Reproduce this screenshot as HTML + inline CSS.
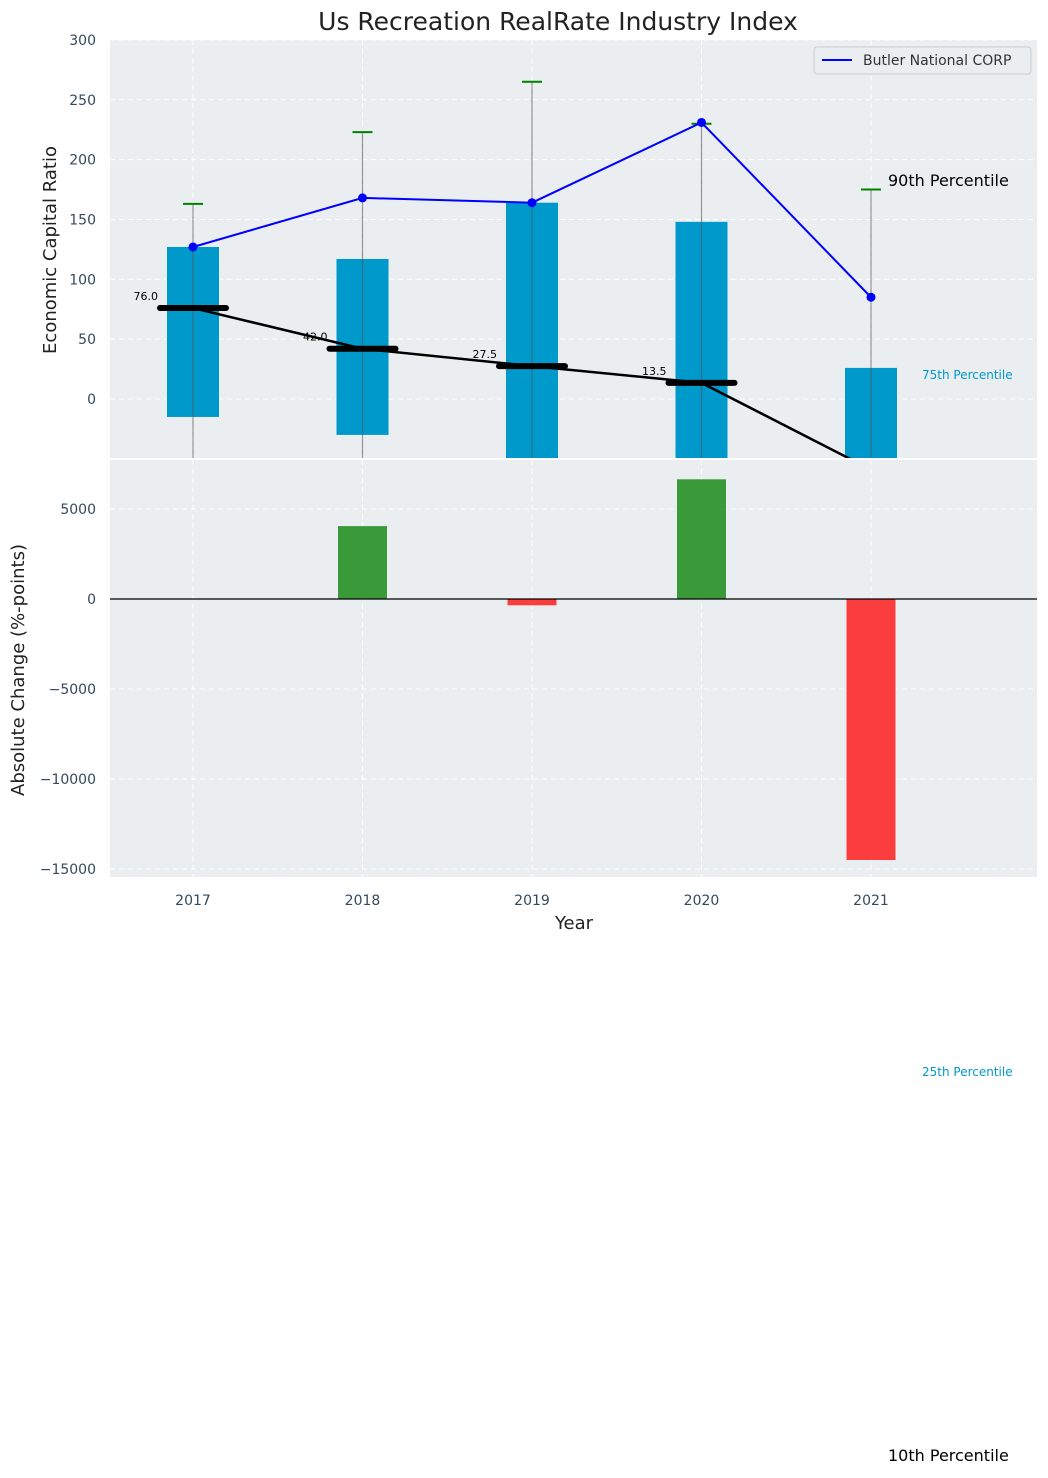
<!DOCTYPE html>
<html><head><meta charset="utf-8"><style>
body{margin:0;background:#fff;font-family:"Liberation Sans","DejaVu Sans",sans-serif}
svg text{font-family:"DejaVu Sans","Liberation Sans",sans-serif}
</style></head><body>
<svg id="chart" width="1048" height="1473" xmlns="http://www.w3.org/2000/svg"></svg>
<script>
const years=[2017,2018,2019,2020,2021];
const p75=[127,117,164,148,26];
const p25=[-15,-30,-80,-80,-80];
const p90=[163,223,265,230,175];
const medians=[76,42,27.5,13.5,-59];
const medianLabels=["76.0","42.0","27.5","13.5",""];
const company=[127,168,164,231,85];
const changes=[0,4050,-350,6650,-14500];
const topTicks=[0,50,100,150,200,250,300];
const botTicks=[-15000,-10000,-5000,0,5000];

const svg=document.getElementById('chart');
const NS='http://www.w3.org/2000/svg';
function mk(tag,attrs,parent){const e=document.createElementNS(NS,tag);for(const k in attrs)e.setAttribute(k,attrs[k]);(parent||svg).appendChild(e);return e;}
const X=y=>193+(y-2017)*169.5;
const Yt=v=>399-v*1.197;
const Yb=v=>599-v*0.018;
const L=110,R=1037;

let e=mk('rect',{x:L,y:40,width:R-L,height:418,fill:'#eaeef0'});

e=mk('rect',{x:L,y:460,width:R-L,height:417,fill:'#eaeef0'});


const clipT=mk('clipPath',{id:'ct'});mk('rect',{x:L,y:40,width:R-L,height:418},clipT);
const clipB=mk('clipPath',{id:'cb'});mk('rect',{x:L,y:460,width:R-L,height:417},clipB);
const gT=mk('g',{'clip-path':'url(#ct)'});
const gB=mk('g',{'clip-path':'url(#cb)'});

topTicks.forEach(t=>{mk('line',{x1:L,x2:R,y1:Yt(t),y2:Yt(t),stroke:'#fff','stroke-dasharray':'5,4','stroke-width':1},gT);
 e=mk('text',{x:96,y:Yt(t)+5,'text-anchor':'end','font-size':14,fill:'#34495e'});e.textContent=t;
 });
botTicks.forEach(t=>{mk('line',{x1:L,x2:R,y1:Yb(t),y2:Yb(t),stroke:'#fff','stroke-dasharray':'5,4','stroke-width':1},gB);
 e=mk('text',{x:96,y:Yb(t)+5,'text-anchor':'end','font-size':14,fill:'#34495e'});e.textContent=t<0?'\u2212'+(-t):t;
 });
years.forEach(y=>{mk('line',{x1:X(y),x2:X(y),y1:40,y2:458,stroke:'#fff','stroke-dasharray':'5,4'},gT);
 mk('line',{x1:X(y),x2:X(y),y1:460,y2:877,stroke:'#fff','stroke-dasharray':'5,4'},gB);
 e=mk('text',{x:X(y),y:905,'text-anchor':'middle','font-size':14,fill:'#34495e'});e.textContent=y;
 });

years.forEach((y,i)=>{
 e=mk('rect',{x:X(y)-26,y:Yt(p75[i]),width:52,height:Yt(p25[i])-Yt(p75[i]),fill:'#0099cc'},gT);
 
 e=mk('line',{x1:X(y),x2:X(y),y1:Yt(p90[i]),y2:470,stroke:'#555','stroke-opacity':0.6,'stroke-width':1.2},gT);
 
 e=mk('line',{x1:X(y)-10,x2:X(y)+10,y1:Yt(p90[i]),y2:Yt(p90[i]),stroke:'green','stroke-width':2},gT);
 
});
e=mk('polyline',{points:years.map((y,i)=>X(y)+','+Yt(medians[i])).join(' '),fill:'none',stroke:'#000','stroke-width':2.5},gT);

years.forEach((y,i)=>{
 e=mk('line',{x1:X(y)-33,x2:X(y)+33,y1:Yt(medians[i]),y2:Yt(medians[i]),stroke:'#000','stroke-width':6,'stroke-linecap':'round'},gT);
 
 if(medianLabels[i]){e=mk('text',{x:X(y)-35,y:Yt(medians[i])-8,'text-anchor':'end','font-size':11,fill:'#000'},gT);e.textContent=medianLabels[i];
 }
});
e=mk('polyline',{points:years.map((y,i)=>X(y)+','+Yt(company[i])).join(' '),fill:'none',stroke:'#0000ff','stroke-width':2},gT);

years.forEach((y,i)=>{e=mk('circle',{cx:X(y),cy:Yt(company[i]),r:4.5,fill:'#0000ff'},gT);
 });

years.forEach((y,i)=>{const v=changes[i];if(!v)return;
 e=mk('rect',{x:X(y)-24.5,y:Math.min(Yb(v),Yb(0)),width:49,height:Math.abs(Yb(v)-Yb(0)),fill:v>0?'#3a9a3a':'#fc3d3d'},gB);
 });
mk('line',{x1:L,x2:R,y1:Yb(0),y2:Yb(0),stroke:'#000','stroke-width':1.2},gB);

const lg=mk('g',{});
mk('rect',{x:814,y:47,width:217,height:27,fill:'#eaeef0',stroke:'#ccc',rx:3},lg);
mk('line',{x1:822,x2:852,y1:60,y2:60,stroke:'#0000ff','stroke-width':2},lg);
e=mk('text',{x:863,y:65,'font-size':14,fill:'#333'},lg);e.textContent='Butler National CORP';

function txt(s,x,y,size,fill,name,anchor,rot){e=mk('text',{x:x,y:y,'font-size':size,fill:fill,'text-anchor':anchor||'start'});if(rot)e.setAttribute('transform',rot);e.textContent=s;}
txt('Us Recreation RealRate Industry Index',558,30,25,'#222','chart-title','middle');
txt('Economic Capital Ratio',56,250,18,'#222','y-axis-title','middle','rotate(-90 56 250)');
txt('Absolute Change (%-points)',24,670,18,'#222','y2-axis-title','middle','rotate(-90 24 670)');
txt('Year',574,929,18,'#222','x-axis-title','middle');
txt('90th Percentile',888,186,16,'#000','p90-label');
txt('75th Percentile',922,379,12,'#0099cc','p75-label');
txt('25th Percentile',922,1076,12,'#0099cc','p25-label');
txt('10th Percentile',888,1461,16,'#000','p10-label');
</script>
</body></html>
